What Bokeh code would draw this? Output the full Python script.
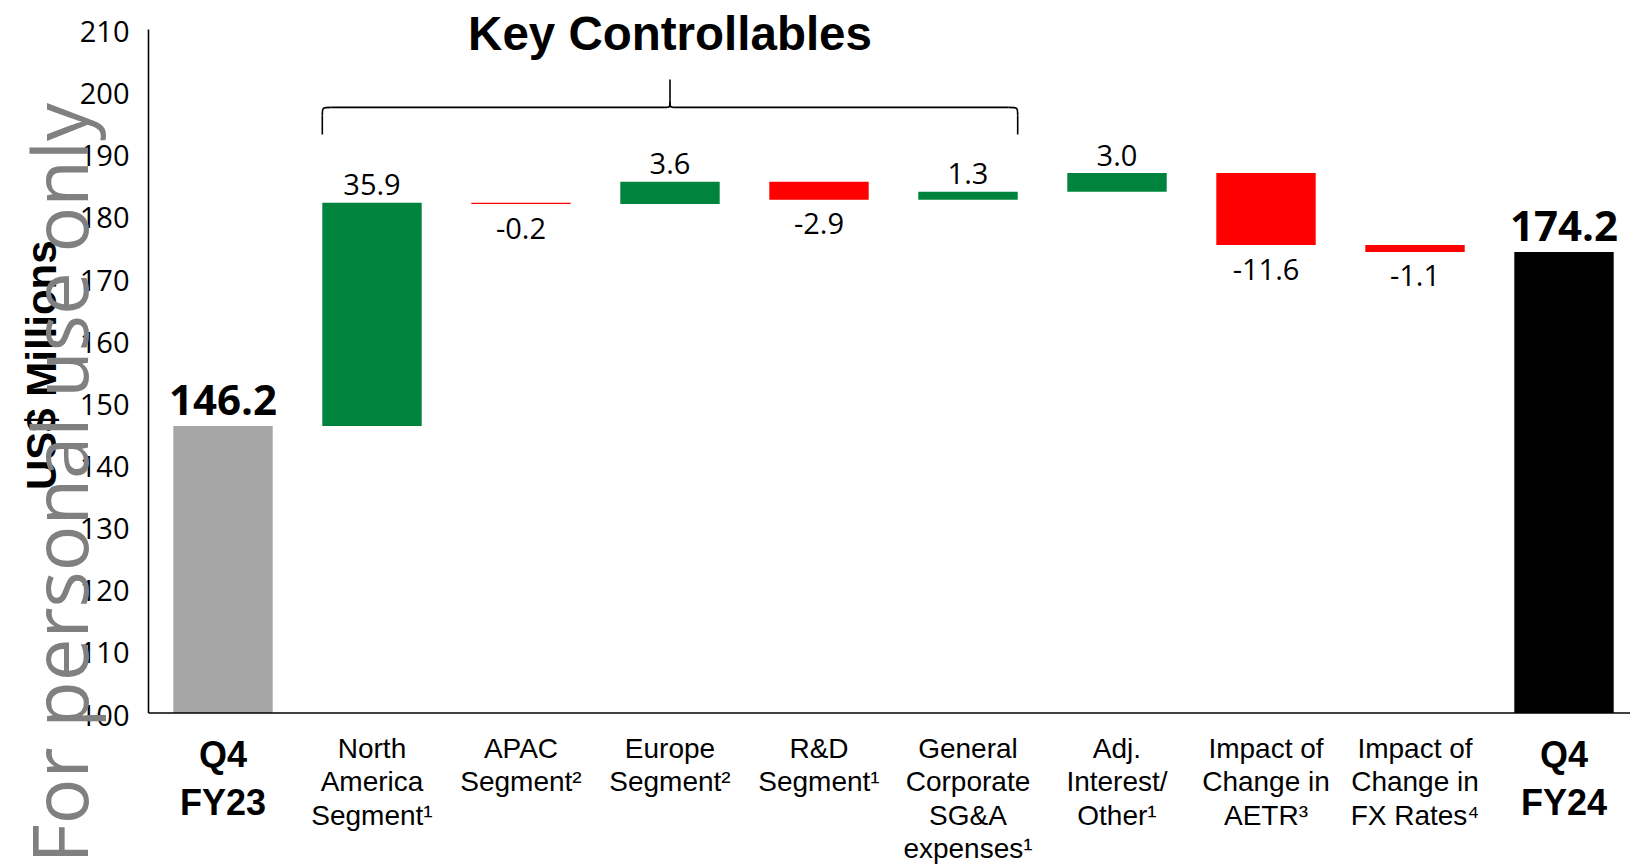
import numpy as np
from bokeh.plotting import figure
from bokeh.models import ColumnDataSource
from bokeh.embed import file_html
from bokeh.resources import INLINE
from bokeh.core.properties import value

# ---------------- data ----------------
tick_labels = ["Q4\nFY23", "North\nAmerica\nSegment¹", "APAC\nSegment²", "Europe\nSegment²",
               "R&D\nSegment¹", "General\nCorporate\nSG&A\nexpenses¹", "Adj.\nInterest/\nOther¹",
               "Impact of\nChange in\nAETR³", "Impact of\nChange in\nFX Rates⁴", "Q4\nFY24"]
start_value = 146.2
end_value = 174.2
changes = [35.9, -0.2, 3.6, -2.9, 1.3, 3.0, -11.6, -1.1]
y_ticks = [100, 110, 120, 130, 140, 150, 160, 170, 180, 190, 200, 210]
bracket_title = "Key Controllables"
bracket_span = (1, 5)          # categories covered by the bracket
y_axis_title = "US$ Millions"
watermark = "For personal use only"

# ---------------- layout constants (pixels) ----------------
W, H = 1630, 864
CAT_PX = 149.0            # width of one category slot
FIRST_CENTER = 222.5      # x pixel of first category centre
Y0_PX = 712.5             # y pixel of the axis floor
PX_PER_UNIT = 6.214       # vertical pixels per US$ million

GREEN, RED, GRAY, BLACK = "#00843D", "#FF0000", "#A6A6A6", "#000000"
n = len(tick_labels)
xs = np.arange(n)
ch = np.array(changes)
cum = start_value + np.cumsum(ch)
prev = np.concatenate([[start_value], cum[:-1]])
floor = y_ticks[0]
top_tick = y_ticks[-1]

x_start = -FIRST_CENTER / CAT_PX
x_end = (W - FIRST_CENTER) / CAT_PX
y_start = floor - (H - Y0_PX) / PX_PER_UNIT
y_end = floor + Y0_PX / PX_PER_UNIT

p = figure(width=W, height=H, x_range=(x_start, x_end), y_range=(y_start, y_end),
           output_backend="svg", toolbar_location=None,
           min_border_left=0, min_border_right=0, min_border_top=0, min_border_bottom=0)
p.xaxis.visible = False
p.yaxis.visible = False
p.xgrid.visible = False
p.ygrid.visible = False
p.outline_line_color = None
p.background_fill_color = "white"
p.border_fill_color = "white"

BW = 0.667
bar_bottom = [floor] + list(np.minimum(prev, cum)) + [floor]
bar_top = [start_value] + list(np.maximum(prev, cum)) + [end_value]
bar_color = [GRAY] + [GREEN if c > 0 else RED for c in changes] + [BLACK]
p.vbar(x="x", width=BW, bottom="bottom", top="top", fill_color="color", line_color=None,
       source=ColumnDataSource(dict(x=list(xs), bottom=bar_bottom, top=bar_top, color=bar_color)))

# axis lines
axis_x = -0.5
p.segment(x0=[axis_x, axis_x], y0=[floor, floor], x1=[axis_x, x_end], y1=[top_tick, floor],
          line_color=BLACK, line_width=1.6)

# y tick labels
p.text(x=[axis_x] * len(y_ticks), y=y_ticks, text=[str(t) for t in y_ticks],
       x_offset=-19, y_offset=2, text_font=value("Open Sans"), text_font_size="29px",
       text_align="right", text_baseline="middle", text_color=BLACK)

# y axis title
p.text(x=[axis_x], y=[(floor + top_tick) / 2], text=[y_axis_title], angle=np.pi / 2,
       x_offset=-107, y_offset=-6, text_font=value("Liberation Sans"), text_font_size="42px",
       text_font_style="bold", text_align="center", text_baseline="middle", text_color=BLACK)

# change value labels
lab_x, lab_y, lab_t, lab_off = [], [], [], []
for i, c in enumerate(changes):
    lab_x.append(i + 1)
    lab_t.append(f"{c:.1f}")
    if c > 0:
        lab_y.append(max(prev[i], cum[i])); lab_off.append(-18)
    else:
        lab_y.append(min(prev[i], cum[i])); lab_off.append(24)
p.text(x="x", y="y", text="t", y_offset="off",
       source=ColumnDataSource(dict(x=lab_x, y=lab_y, t=lab_t, off=lab_off)),
       text_font=value("Open Sans"), text_font_size="29px", text_align="center",
       text_baseline="middle", text_color=BLACK)

# total value labels
p.text(x=[0, n - 1], y=[start_value, end_value], text=[f"{start_value:.1f}", f"{end_value:.1f}"],
       y_offset=-26, text_font=value("Open Sans"), text_font_size="42px", text_font_style="bold",
       text_align="center", text_baseline="middle", text_color=BLACK)

# category labels
mid = list(range(1, n - 1))
p.text(x=mid, y=[floor] * len(mid), text=[tick_labels[i] for i in mid], y_offset=20,
       text_font=value("Liberation Sans"), text_font_size="28px", text_line_height=1.075,
       text_align="center", text_baseline="top", text_color=BLACK)
p.text(x=[0, n - 1], y=[floor, floor], text=[tick_labels[0], tick_labels[-1]], y_offset=21,
       text_font=value("Liberation Sans"), text_font_size="36px", text_font_style="bold",
       text_line_height=1.16, text_align="center", text_baseline="top", text_color=BLACK)

# bracket
xl = bracket_span[0] - BW / 2
xr = bracket_span[1] + BW / 2
xc = (bracket_span[0] + bracket_span[1]) / 2
yb, yh, yt = 193.1, 197.46, 201.96
rx, ry, sx, sy = 0.06, 1.3, 0.04, 1.0
p.segment(x0=[xl, xl + rx, xc + sx, xr, xc], y0=[yb, yh, yh, yb, yh + sy],
          x1=[xl, xc - sx, xr - rx, xr, xc], y1=[yh - ry, yh, yh, yh - ry, yt],
          line_color=BLACK, line_width=1.6)
p.bezier(x0=[xl, xc - sx, xc + sx, xr - rx], y0=[yh - ry, yh, yh, yh],
         x1=[xl + rx, xc, xc, xr], y1=[yh, yh + sy, yh + sy, yh - ry],
         cx0=[xl, xc, xc, xr], cy0=[yh, yh, yh, yh],
         cx1=[xl, xc, xc, xr], cy1=[yh, yh, yh, yh],
         line_color=BLACK, line_width=1.6)

p.text(x=[xc], y=[top_tick], text=[bracket_title], y_offset=4,
       text_font=value("Liberation Sans"), text_font_size="47.5px", text_font_style="bold",
       text_align="center", text_baseline="middle", text_color=BLACK)

# watermark
p.text(x=[axis_x], y=[floor], text=[watermark], angle=np.pi / 2, x_offset=-90, y_offset=150.5,
       text_font=value("Open Sans"), text_font_size="76px", text_align="left",
       text_baseline="alphabetic", text_color="#808080")

open("out.html", "w").write(file_html(p, INLINE))
